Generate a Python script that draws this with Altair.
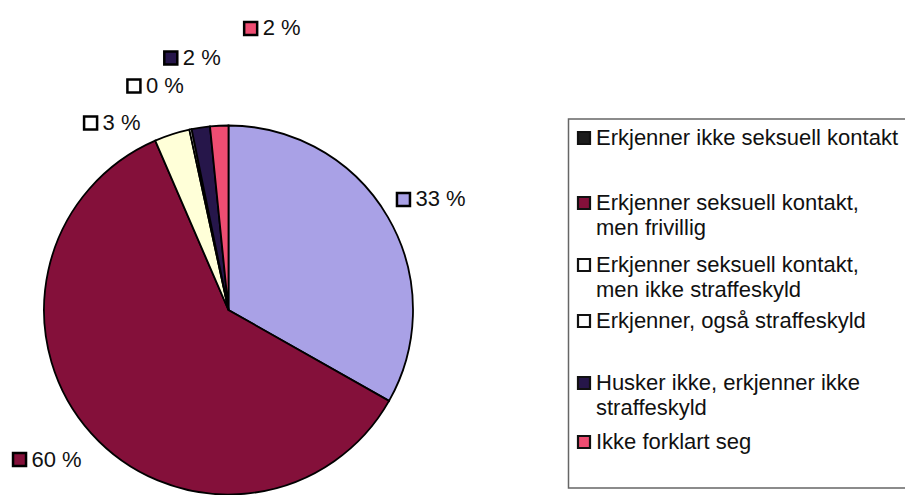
import math
import altair as alt
import pandas as pd

# ---------------- data ----------------
categories = [
    "Erkjenner ikke seksuell kontakt",
    "Erkjenner seksuell kontakt, men frivillig",
    "Erkjenner seksuell kontakt, men ikke straffeskyld",
    "Erkjenner, også straffeskyld",
    "Husker ikke, erkjenner ikke straffeskyld",
    "Ikke forklart seg",
]
shares = [33.2, 60.3, 3.1, 0.2, 1.6, 1.6]
value_labels = ["33 %", "60 %", "3 %", "0 %", "2 %", "2 %"]
legend_lines = [
    ["Erkjenner ikke seksuell kontakt"],
    ["Erkjenner seksuell kontakt,", "men frivillig"],
    ["Erkjenner seksuell kontakt,", "men ikke straffeskyld"],
    ["Erkjenner, også straffeskyld"],
    ["Husker ikke, erkjenner ikke", "straffeskyld"],
    ["Ikke forklart seg"],
]

# ---------------- styles / layout ----------------
slice_colors = ["#a9a1e6", "#84103a", "#ffffd8", "#ffffff", "#26164a", "#ee4d72"]
label_marker_colors = ["#a9a1e6", "#84103a", "#ffffff", "#ffffff", "#26164a", "#ee4d72"]
legend_marker_colors = ["#1c1c1c", "#84103a", "#ffffff", "#ffffff", "#26164a", "#ee4d72"]

FONT = "Liberation Sans"
W, H = 897, 487
CX, CY, R = 220.5, 302.0, 184.5
label_angle_deg = [57.7, 234.4, 323.6, 337.1, 347.1, 4.5]
label_dist = [207.0, 257.0, 232.4, 243.1, 258.5, 282.4]
legend_item_y = [130, 195, 257, 313, 375, 434]
LEG_LINE = 25
LEG_MARK_X = 576
LEG_TEXT_X = 588
LEG_BOX = dict(x=560.5, x2=930, y=111, y2=480)

# ---------------- tables ----------------
pie_df = pd.DataFrame({"cat": categories, "share": shares, "idx": list(range(len(categories)))})

lab_df = pd.DataFrame({
    "label": value_labels,
    "fill": label_marker_colors,
    "px": [CX + d * math.sin(math.radians(a)) for a, d in zip(label_angle_deg, label_dist)],
    "py": [CY - d * math.cos(math.radians(a)) for a, d in zip(label_angle_deg, label_dist)],
})

leg_mark_df = pd.DataFrame({
    "fill": legend_marker_colors,
    "px": [LEG_MARK_X] * len(categories),
    "py": legend_item_y,
})
rows = []
for lines, y0 in zip(legend_lines, legend_item_y):
    for i, line in enumerate(lines):
        rows.append({"txt": line, "px": LEG_TEXT_X, "py": y0 + i * LEG_LINE})
leg_txt_df = pd.DataFrame(rows)

# ---------------- marks ----------------
pie = alt.Chart(pie_df).mark_arc(stroke="#000000", strokeWidth=1.8, radius=R).encode(
    theta=alt.Theta("share:Q", stack=True),
    color=alt.Color("cat:N", scale=alt.Scale(domain=categories, range=slice_colors), legend=None),
    order=alt.Order("idx:Q"),
    x=alt.value(CX),
    y=alt.value(CY),
)

XS = dict(scale=None, axis=None)
lab_marks = alt.Chart(lab_df).mark_square(size=169, stroke="#000000", strokeWidth=2.5, opacity=1).encode(
    x=alt.X("px:Q", **XS), y=alt.Y("py:Q", **XS), fill=alt.Fill("fill:N", scale=None),
)
lab_text = alt.Chart(lab_df).mark_text(align="left", baseline="middle", dx=12, fontSize=22,
                                        font=FONT, color="#111111").encode(
    x=alt.X("px:Q", **XS), y=alt.Y("py:Q", **XS), text="label:N",
)

box = alt.Chart(pd.DataFrame({"k": [0]})).mark_rect(fill="#ffffff", fillOpacity=0, stroke="#666666",
                                                     strokeWidth=1.5).encode(
    x=alt.value(LEG_BOX["x"]), x2=alt.value(LEG_BOX["x2"]),
    y=alt.value(LEG_BOX["y"]), y2=alt.value(LEG_BOX["y2"]),
)
leg_marks = alt.Chart(leg_mark_df).mark_square(size=144, stroke="#111111", strokeWidth=2.2, opacity=1).encode(
    x=alt.X("px:Q", **XS), y=alt.Y("py:Q", **XS), fill=alt.Fill("fill:N", scale=None),
)
leg_text = alt.Chart(leg_txt_df).mark_text(align="left", baseline="middle", fontSize=22,
                                            font=FONT, color="#111111").encode(
    x=alt.X("px:Q", **XS), y=alt.Y("py:Q", **XS), text="txt:N",
)

chart = alt.layer(pie, lab_marks, lab_text, box, leg_marks, leg_text).properties(
    width=W, height=H, padding=0, autosize=alt.AutoSizeParams(type="none"), background="#ffffff",
).configure_view(stroke=None)

chart.save("out.html", embed_options={"renderer": "svg", "actions": False})
